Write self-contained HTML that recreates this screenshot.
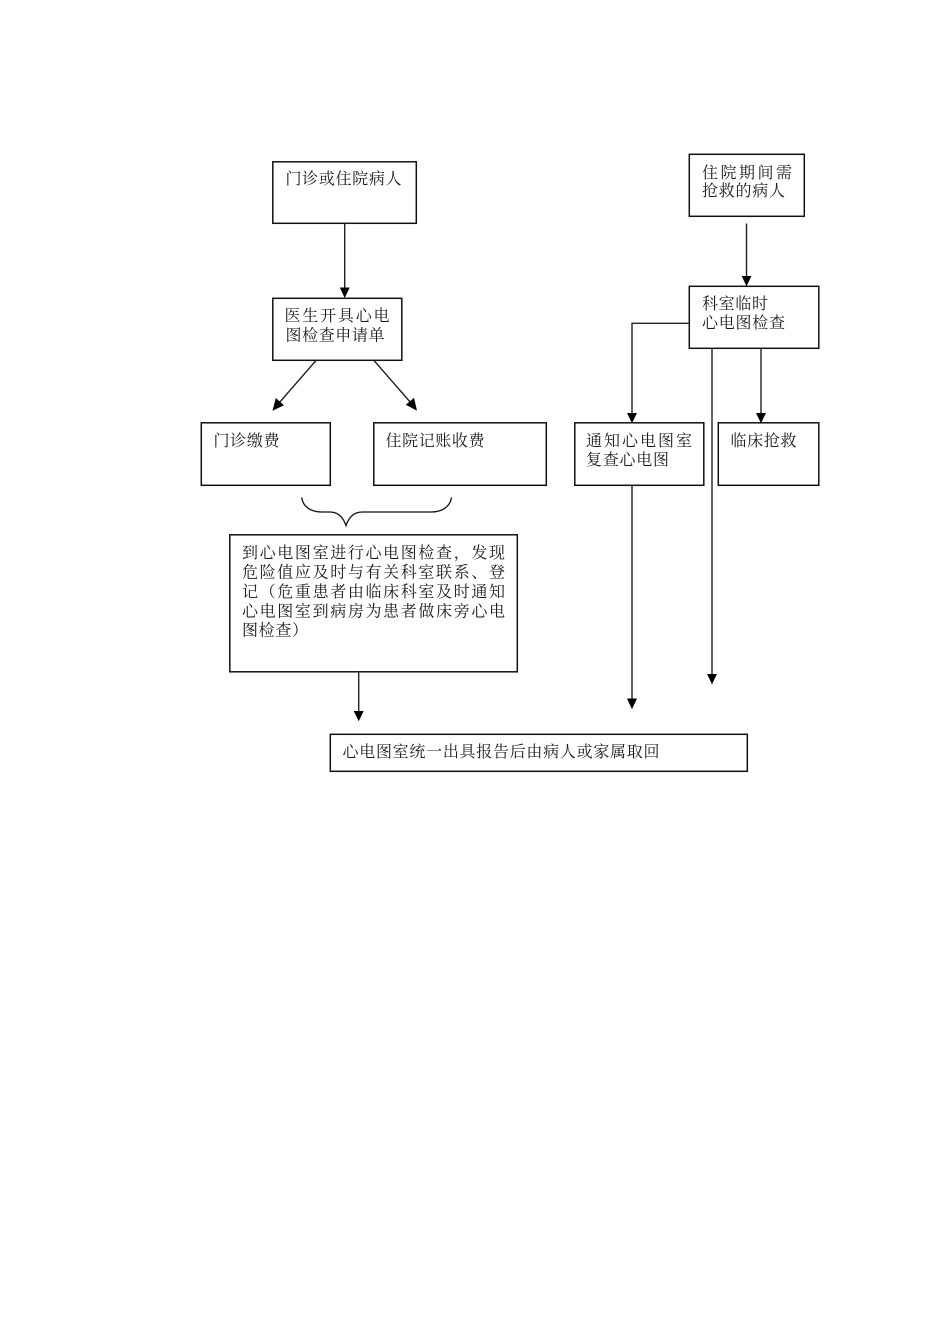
<!DOCTYPE html>
<html>
<head>
<meta charset="utf-8">
<style>
html,body{margin:0;padding:0;background:#fff;width:950px;height:1344px;overflow:hidden}
svg{display:block}
text{font-family:"Liberation Serif","Noto Serif CJK SC",serif;font-size:16px;fill:#1a1a1a}
.b{fill:#fff;stroke:#111;stroke-width:1.5}
.l{fill:none;stroke:#222;stroke-width:1.4}
.h{fill:#000}
</style>
</head>
<body>
<svg width="950" height="1344" viewBox="0 0 950 1344" xmlns="http://www.w3.org/2000/svg">
<rect x="272.8" y="161.800" width="143.500" height="61.500" class="b"/>
<rect x="272.8" y="298.300" width="129" height="62" class="b"/>
<rect x="201.300" y="422.800" width="129" height="62.500" class="b"/>
<rect x="373.800" y="422.800" width="172.500" height="62.500" class="b"/>
<rect x="689.300" y="154.300" width="115" height="62" class="b"/>
<rect x="689.300" y="286.300" width="129.500" height="62" class="b"/>
<rect x="574.800" y="422.800" width="129" height="62.500" class="b"/>
<rect x="718.300" y="422.800" width="100.500" height="62.500" class="b"/>
<rect x="229.800" y="534.800" width="287.500" height="137" class="b"/>
<rect x="330.300" y="734.300" width="417" height="37" class="b"/>

<path class="l" d="M344.700 223V289"/>
<path class="h" d="M339.800 287.500H349.700L344.700 298Z"/>
<path class="l" d="M316 360.500L279 403"/>
<path class="h" d="M272.500 410.800L275.800 398L284 405.200Z"/>
<path class="l" d="M374 360.500L411 403"/>
<path class="h" d="M417 410.800L405.800 404.800L414 397.800Z"/>
<path class="l" d="M746.500 223.500V277"/>
<path class="h" d="M741.700 276H751.500L746.500 286.200Z"/>
<path class="l" d="M689 323.300H632V414"/>
<path class="h" d="M627 413H637L632 423.200Z"/>
<path class="l" d="M761 348V414"/>
<path class="h" d="M756 413H766L761 423.200Z"/>
<path class="l" d="M712 348V675"/>
<path class="h" d="M707 674H717L712 684.200Z"/>
<path class="l" d="M632 485V700"/>
<path class="h" d="M627 698.500H637L632 709.200Z"/>
<path class="l" d="M358.700 671.500V712"/>
<path class="h" d="M353.700 711H363.700L358.700 721.200Z"/>

<path d="M301.700 497.500C303 507 311 512 322 512H330C338 512 343 517 346 525.500C349 517 354 512 362 512H431C442 512 450 507 451.500 497.500" fill="none" stroke="#111" stroke-width="1.300"/>

<text x="285.500" y="184" textLength="116" lengthAdjust="spacing">门诊或住院病人</text>
<text x="284.500" y="321" textLength="105" lengthAdjust="spacing">医生开具心电</text>
<text x="285.500" y="340.500" textLength="99" lengthAdjust="spacing">图检查申请单</text>
<text x="213.500" y="446" textLength="66" lengthAdjust="spacing">门诊缴费</text>
<text x="385.500" y="446" textLength="99" lengthAdjust="spacing">住院记账收费</text>

<text x="702" y="178" textLength="90" lengthAdjust="spacing">住院期间需</text>
<text x="702" y="196" textLength="83" lengthAdjust="spacing">抢救的病人</text>
<text x="702" y="309" textLength="66" lengthAdjust="spacing">科室临时</text>
<text x="702" y="328" textLength="83" lengthAdjust="spacing">心电图检查</text>
<text x="586" y="446" textLength="106" lengthAdjust="spacing">通知心电图室</text>
<text x="586" y="465" textLength="83" lengthAdjust="spacing">复查心电图</text>
<text x="730.500" y="446" textLength="66" lengthAdjust="spacing">临床抢救</text>

<text x="242" y="558" textLength="263" lengthAdjust="spacing">到心电图室进行心电图检查，发现</text>
<text x="242" y="577.500" textLength="263" lengthAdjust="spacing">危险值应及时与有关科室联系、登</text>
<text x="242" y="597" textLength="263" lengthAdjust="spacing">记（危重患者由临床科室及时通知</text>
<text x="242" y="616.500" textLength="263" lengthAdjust="spacing">心电图室到病房为患者做床旁心电</text>
<text x="242" y="635.500" textLength="66" lengthAdjust="spacing">图检查）</text>

<text x="342.500" y="757" textLength="317" lengthAdjust="spacing">心电图室统一出具报告后由病人或家属取回</text>
</svg>
</body>
</html>
